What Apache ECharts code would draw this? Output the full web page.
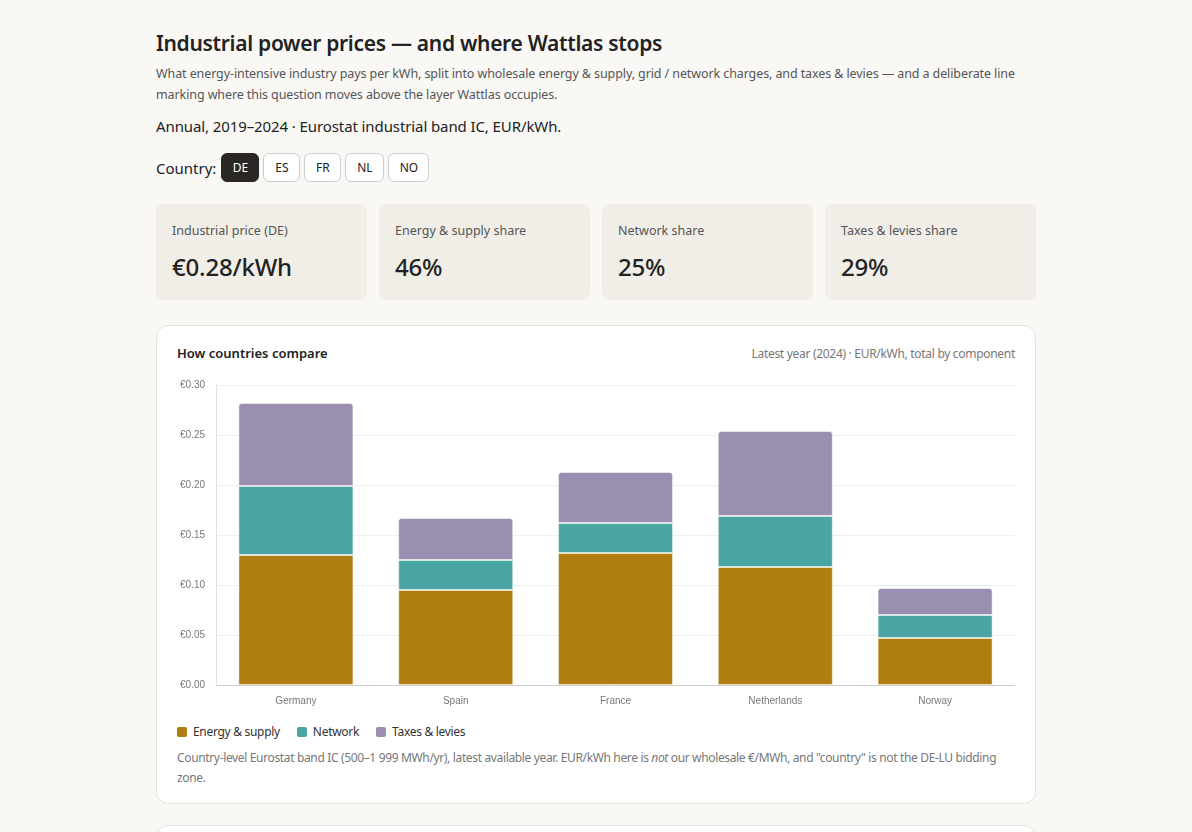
<!DOCTYPE html>
<html>
<head>
<meta charset="utf-8">
<script src="https://cdn.jsdelivr.net/npm/echarts@6/dist/echarts.min.js"></script>
<style>
  body{margin:0;background:#f9f8f5;font-family:"Segoe UI","Noto Sans","Open Sans",sans-serif;color:#222;}
  .wrap{width:880px;margin:0 auto;padding-top:28px;}
  h1{font-size:21px;font-weight:600;margin:0 0 5px 0;line-height:30px;letter-spacing:-0.3px;}
  .sub{font-size:12.5px;color:#555;line-height:21px;margin:0 0 10px 0;letter-spacing:-0.1px;}
  .meta{font-size:15px;margin:0 0 16px 0;line-height:22px;letter-spacing:-0.1px;}
  .ctry{display:flex;align-items:center;gap:4px;font-size:15px;}
  .ctry span{margin-right:1px;}
  .btn{height:29px;box-sizing:border-box;border:1px solid #ccc;border-radius:6px;background:#fff;font-size:12px;display:flex;align-items:center;justify-content:center;color:#222;}
  .btn.on{background:#2b2724;color:#fff;border-color:#2b2724;}
  .kpis{display:flex;gap:12px;margin-top:22px;}
  .kpi{flex:1;height:96px;background:#f1eee8;border-radius:8px;box-sizing:border-box;padding:18px 16px;}
  .kpi .l{font-size:12.5px;color:#555;line-height:18px;}
  .kpi .v{font-size:24px;font-weight:500;margin-top:12px;line-height:30px;letter-spacing:-0.2px;}
  .card{background:#fff;border:1px solid #e5e2dc;border-radius:12px;margin-top:25px;padding:18px 20px 15px 20px;}
  .hd{display:flex;justify-content:space-between;align-items:baseline;}
  .hd .t{font-size:13px;font-weight:600;}
  .hd .r{font-size:12px;color:#777;letter-spacing:-0.3px;}
  #chart{width:838px;height:340px;margin-top:10px;}
  .leg{display:flex;gap:17px;font-size:12px;color:#333;margin-top:11px;letter-spacing:-0.3px;}
  .leg div{display:flex;align-items:center;}
  .leg i{display:inline-block;width:10px;height:10px;border-radius:2px;margin-right:6px;}
  .note{font-size:12px;color:#777;line-height:20px;margin-top:8px;letter-spacing:-0.35px;}
  .card2{height:40px;margin-top:21px;}
</style>
</head>
<body>
<div class="wrap">
  <h1>Industrial power prices — and where Wattlas stops</h1>
  <p class="sub">What energy-intensive industry pays per kWh, split into wholesale energy &amp; supply, grid / network charges, and taxes &amp; levies — and a deliberate line marking where this question moves above the layer Wattlas occupies.</p>
  <p class="meta">Annual, 2019–2024 · Eurostat industrial band IC, EUR/kWh.</p>
  <div class="ctry"><span>Country:</span>
    <div class="btn on" style="width:38px">DE</div>
    <div class="btn" style="width:37px">ES</div>
    <div class="btn" style="width:37px">FR</div>
    <div class="btn" style="width:39px">NL</div>
    <div class="btn" style="width:41px">NO</div>
  </div>
  <div class="kpis">
    <div class="kpi"><div class="l">Industrial price (DE)</div><div class="v">€0.28/kWh</div></div>
    <div class="kpi"><div class="l">Energy &amp; supply share</div><div class="v">46%</div></div>
    <div class="kpi"><div class="l">Network share</div><div class="v">25%</div></div>
    <div class="kpi"><div class="l">Taxes &amp; levies share</div><div class="v">29%</div></div>
  </div>
  <div class="card">
    <div class="hd"><div class="t">How countries compare</div><div class="r">Latest year (2024) · EUR/kWh, total by component</div></div>
    <div id="chart"></div>
    <div class="leg" id="leg"></div>
    <div class="note">Country-level Eurostat band IC (500–1 999 MWh/yr), latest available year. EUR/kWh here is <i style="font-style:italic">not</i> our wholesale €/MWh, and "country" is not the DE-LU bidding zone.</div>
  </div>
  <div class="card card2"></div>
</div>
<script>
var countries = ['Germany', 'Spain', 'France', 'Netherlands', 'Norway'];
var energy = [0.130, 0.095, 0.132, 0.118, 0.047];
var network = [0.069, 0.030, 0.030, 0.051, 0.023];
var taxes = [0.083, 0.042, 0.051, 0.085, 0.027];
var seriesNames = ['Energy & supply', 'Network', 'Taxes & levies'];
var colors = ['#b07d10', '#4aa6a2', '#9a8fb1'];

var leg = '';
for (var i = 0; i < seriesNames.length; i++) {
  leg += '<div><i style="background:' + colors[i] + '"></i>' + seriesNames[i].replace('&', '&amp;') + '</div>';
}
document.getElementById('leg').innerHTML = leg;

var dom = document.getElementById('chart');
var myChart = echarts.init(dom);
var option = {
  animation: false,
  grid: { left: 39, right: 0, top: 13, bottom: 27 },
  xAxis: {
    type: 'category',
    data: countries,
    axisTick: { show: false },
    axisLine: { lineStyle: { color: '#ccc' } },
    axisLabel: { color: '#777', fontSize: 10, margin: 11, fontFamily: 'Arial, Liberation Sans, sans-serif' }
  },
  yAxis: {
    type: 'value',
    min: 0,
    max: 0.30,
    interval: 0.05,
    axisLine: { show: true, lineStyle: { color: '#e0e0e0' } },
    splitLine: { lineStyle: { color: '#eeeeee' } },
    axisLabel: {
      color: '#777', fontSize: 10, margin: 11, fontFamily: 'Arial, Liberation Sans, sans-serif',
      formatter: function (v) { return '€' + v.toFixed(2); }
    }
  },
  series: [
    { name: seriesNames[0], type: 'bar', stack: 't', data: energy, barWidth: '72%',
      itemStyle: { color: colors[0], borderColor: 'rgba(255,255,255,0.5)', borderWidth: 1 } },
    { name: seriesNames[1], type: 'bar', stack: 't', data: network,
      itemStyle: { color: colors[1], borderColor: 'rgba(255,255,255,0.5)', borderWidth: 1 } },
    { name: seriesNames[2], type: 'bar', stack: 't', data: taxes,
      itemStyle: { color: colors[2], borderColor: 'rgba(255,255,255,0.5)', borderWidth: 1, borderRadius: [3, 3, 0, 0] } }
  ]
};
myChart.setOption(option, true);
</script>
</body>
</html>
